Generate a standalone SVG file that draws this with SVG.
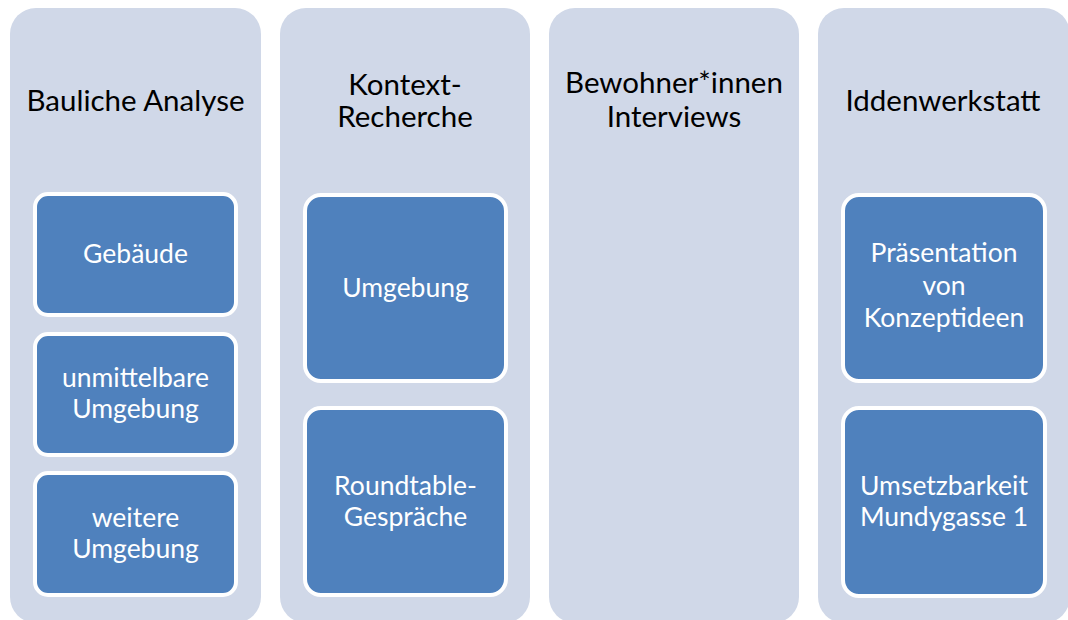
<svg xmlns="http://www.w3.org/2000/svg" width="1068" height="620" viewBox="0 0 1068 620">
<style>
.col{fill:#d0d8e8}
.box{fill:#4f81bd;stroke:#ffffff;stroke-width:4}
.t{font-family:Lato,"Open Sans",sans-serif;font-size:29.5px;fill:#000;text-anchor:middle}
.w{font-family:Lato,"Open Sans",sans-serif;font-size:26.5px;fill:#fff;text-anchor:middle}
</style>
<rect width="1068" height="620" fill="#fff"/>
<g id="col1">
<rect class="col" x="10" y="8" width="251" height="615" rx="26"/>
<text class="t" x="135.5" y="111">Bauliche Analyse</text>
</g>
<g id="col2">
<rect class="col" x="280" y="8" width="250" height="615" rx="26"/>
<text class="t" x="405" y="95">Kontext-</text>
<text class="t" x="405" y="127">Recherche</text>
</g>
<g id="col3">
<rect class="col" x="549" y="8" width="250" height="615" rx="26"/>
<text class="t" x="674" y="93">Bewohner*innen</text>
<text class="t" x="674" y="127">Interviews</text>
</g>
<g id="col4">
<rect class="col" x="818" y="8" width="252" height="615" rx="26"/>
<text class="t" x="943" y="111">Iddenwerkstatt</text>
</g>
<g id="n-gebaeude">
<rect class="box" x="35" y="194" width="201" height="121" rx="13"/>
<text class="w" x="135.5" y="263">Gebäude</text>
</g>
<g id="n-unmittelbar">
<rect class="box" x="35" y="334" width="201" height="121" rx="13"/>
<text class="w" x="135.5" y="387">unmittelbare</text>
<text class="w" x="135.5" y="418">Umgebung</text>
</g>
<g id="n-weitere">
<rect class="box" x="35" y="473" width="201" height="122" rx="13"/>
<text class="w" x="135.5" y="527">weitere</text>
<text class="w" x="135.5" y="558">Umgebung</text>
</g>
<g id="n-umgebung">
<rect class="box" x="305" y="195" width="201" height="186" rx="16"/>
<text class="w" x="405.5" y="297">Umgebung</text>
</g>
<g id="n-roundtable">
<rect class="box" x="305" y="408" width="201" height="187" rx="16"/>
<text class="w" x="405.5" y="495">Roundtable-</text>
<text class="w" x="405.5" y="526">Gespräche</text>
</g>
<g id="n-praesentation">
<rect class="box" x="843" y="195" width="202" height="186" rx="16"/>
<text class="w" x="944" y="262">Präsentation</text>
<text class="w" x="944" y="295">von</text>
<text class="w" x="944" y="327">Konzeptideen</text>
</g>
<g id="n-umsetzbarkeit">
<rect class="box" x="843" y="408" width="202" height="188" rx="16"/>
<text class="w" x="944" y="495">Umsetzbarkeit</text>
<text class="w" x="944" y="526">Mundygasse 1</text>
</g>
<g id="connectors"></g>
</svg>
